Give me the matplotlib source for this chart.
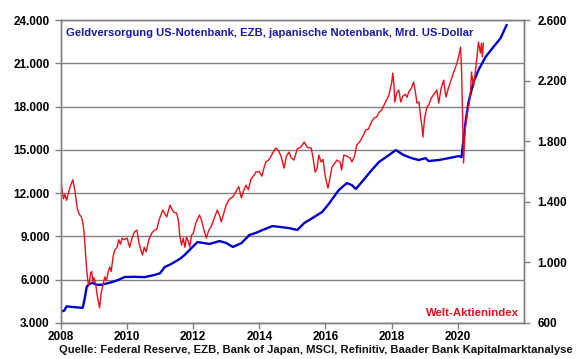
import matplotlib.pyplot as plt
from matplotlib.ticker import FuncFormatter

plt.rcParams['font.family'] = ['Liberation Sans', 'DejaVu Sans']

# Geldversorgung (Mrd. US-Dollar), linke Achse
blue_t = [2008.0, 2008.1, 2008.17, 2008.4, 2008.66, 2008.72, 2008.78, 2008.85, 2008.96,
          2009.08, 2009.23, 2009.4, 2009.57, 2009.75, 2009.93, 2010.23, 2010.53, 2010.83,
          2011.0, 2011.14, 2011.3, 2011.44, 2011.6, 2011.74, 2011.95, 2012.13, 2012.3,
          2012.49, 2012.8, 2013.0, 2013.2, 2013.46, 2013.7, 2013.9, 2014.1, 2014.4,
          2014.66, 2014.9, 2015.15, 2015.36, 2015.66, 2015.9, 2016.1, 2016.4, 2016.65,
          2016.8, 2016.92, 2017.1, 2017.4, 2017.62, 2017.92, 2018.13, 2018.37, 2018.61,
          2018.82, 2019.03, 2019.12, 2019.43, 2019.73, 2020.03, 2020.12, 2020.15, 2020.24,
          2020.33, 2020.48, 2020.63, 2020.84, 2021.08, 2021.3, 2021.48]
blue_v = [3800, 3850, 4150, 4100, 4050, 4700, 5500, 5700, 5780,
          5650, 5650, 5750, 5850, 6000, 6190, 6200, 6180, 6330,
          6450, 6880, 7050, 7230, 7450, 7710, 8200, 8610, 8550,
          8480, 8680, 8550, 8270, 8540, 9100, 9250, 9450, 9720,
          9650, 9580, 9450, 9930, 10350, 10690, 11250, 12200, 12700,
          12560, 12290, 12770, 13600, 14160, 14640, 14990, 14640, 14430,
          14300, 14430, 14230, 14300, 14430, 14570, 14500, 15200, 16930,
          18300, 19700, 20530, 21430, 22130, 22750, 23650]

# Welt-Aktienindex, rechte Achse
red_t = [2008.0, 2008.04, 2008.08, 2008.12, 2008.17, 2008.22, 2008.28, 2008.36, 2008.42,
         2008.5, 2008.55, 2008.62, 2008.66, 2008.7, 2008.75, 2008.78, 2008.82, 2008.85,
         2008.9, 2008.93, 2008.97, 2009.0, 2009.05, 2009.1, 2009.17, 2009.22, 2009.28,
         2009.33, 2009.38, 2009.43, 2009.48, 2009.52, 2009.58, 2009.63, 2009.7, 2009.75,
         2009.8, 2009.85, 2009.92, 2010.0, 2010.08, 2010.15, 2010.22, 2010.3, 2010.36,
         2010.42, 2010.47, 2010.52, 2010.58, 2010.66, 2010.75, 2010.82, 2010.9, 2010.97,
         2011.08, 2011.15, 2011.2, 2011.3, 2011.36, 2011.42, 2011.5, 2011.55, 2011.6,
         2011.65, 2011.7, 2011.75, 2011.8, 2011.85, 2011.9, 2011.95, 2012.0, 2012.08,
         2012.19, 2012.25, 2012.32, 2012.4, 2012.47, 2012.55, 2012.65, 2012.73, 2012.8,
         2012.85, 2012.92, 2013.0, 2013.1, 2013.2, 2013.3, 2013.38, 2013.46, 2013.52,
         2013.6, 2013.67, 2013.75, 2013.85, 2013.9, 2014.0, 2014.08, 2014.15, 2014.2,
         2014.3, 2014.4, 2014.5, 2014.58, 2014.66, 2014.75, 2014.82, 2014.9, 2014.97,
         2015.05, 2015.15, 2015.25, 2015.36, 2015.45, 2015.57, 2015.62, 2015.69, 2015.75,
         2015.8, 2015.87, 2015.93, 2016.0, 2016.08, 2016.15, 2016.2, 2016.3, 2016.35,
         2016.45, 2016.49, 2016.56, 2016.66, 2016.75, 2016.8, 2016.88, 2016.95, 2017.05,
         2017.15, 2017.22, 2017.3, 2017.4, 2017.47, 2017.55, 2017.62, 2017.7, 2017.8,
         2017.92, 2018.0, 2018.04, 2018.08, 2018.1, 2018.16, 2018.22, 2018.28, 2018.35,
         2018.42, 2018.47, 2018.52, 2018.6, 2018.67, 2018.72, 2018.77, 2018.83, 2018.88,
         2018.92, 2018.95, 2019.0, 2019.07, 2019.13, 2019.2, 2019.28, 2019.37, 2019.43,
         2019.5, 2019.58, 2019.62, 2019.65, 2019.72, 2019.8, 2019.87, 2019.94, 2020.0,
         2020.05, 2020.09, 2020.12, 2020.15, 2020.18, 2020.21, 2020.24, 2020.3, 2020.35,
         2020.39, 2020.42, 2020.48, 2020.53, 2020.57, 2020.63, 2020.69, 2020.72, 2020.75,
         2020.78]
red_v = [1540, 1470, 1420, 1450, 1410, 1450, 1500, 1545, 1480,
         1350, 1320, 1300, 1267, 1200, 1050, 950, 870, 850,
         930, 940, 870, 900, 860, 780, 700, 800, 860,
         904, 880, 940, 970, 940, 1040, 1082, 1100, 1150,
         1120, 1160, 1150, 1161, 1100, 1160, 1200, 1214, 1130,
         1080, 1049, 1100, 1070, 1150, 1194, 1210, 1220, 1280,
         1346, 1320, 1300, 1379, 1350, 1330, 1326, 1280, 1170,
         1115, 1160, 1100, 1168, 1140, 1102, 1180, 1190, 1260,
         1313, 1280, 1220, 1161, 1210, 1240, 1300, 1346, 1310,
         1267, 1320, 1380, 1420, 1432, 1470, 1500, 1425, 1470,
         1510, 1480, 1550, 1580, 1597, 1600, 1570, 1630, 1663,
         1680, 1720, 1755, 1740, 1700, 1623, 1700, 1729, 1690,
         1676, 1750, 1760, 1795, 1760, 1755, 1700, 1597, 1620,
         1709, 1663, 1680, 1564, 1491, 1570, 1630, 1660, 1676,
         1660, 1610, 1709, 1700, 1690, 1663, 1700, 1775, 1800,
         1840, 1874, 1880, 1930, 1953, 1960, 1990, 2006, 2050,
         2105, 2180, 2250, 2150, 2059, 2120, 2138, 2059, 2100,
         2110, 2090, 2125, 2150, 2191, 2130, 2052, 2060, 1960,
         1900, 1828, 1950, 2026, 2040, 2085, 2110, 2138, 2052,
         2150, 2204, 2130, 2092, 2150, 2204, 2250, 2290, 2330,
         2380, 2422, 2257, 1973, 1656, 1800, 1907, 1993, 2050,
         2125, 2257, 2158, 2250, 2323, 2455, 2382, 2448, 2356,
         2448]

left_ticks = [3000, 6000, 9000, 12000, 15000, 18000, 21000, 24000]
right_ticks = [600, 1000, 1400, 1800, 2200, 2600]
year_ticks = [2008, 2010, 2012, 2014, 2016, 2018, 2020]

dot_fmt = FuncFormatter(lambda v, p: f"{int(v):,}".replace(",", "."))

fig = plt.figure(figsize=(5.8, 3.59), dpi=100)
ax = fig.add_axes([0.105, 0.1003, 0.798, 0.8437])
ax2 = ax.twinx()

ax.plot(blue_t, blue_v, color='#0000cc', lw=1.7)
ax2.plot(red_t, red_v, color='#e8101a', lw=1.0)

ax.set_xlim(2008, 2022)
ax.set_ylim(3000, 24000)
ax2.set_ylim(600, 2600)
ax.set_xticks(year_ticks)
ax.set_yticks(left_ticks)
ax2.set_yticks(right_ticks)
ax.yaxis.set_major_formatter(dot_fmt)
ax2.yaxis.set_major_formatter(dot_fmt)

ax.grid(axis='y', color='#808080', lw=1.0)
ax.set_axisbelow(True)

for a in (ax, ax2):
    for s in a.spines.values():
        s.set_color('#808080')
        s.set_linewidth(1.0)
    a.tick_params(labelsize=8.5, colors='#808080', labelcolor='black', width=1.0, length=4)
    for lab in a.get_xticklabels() + a.get_yticklabels():
        lab.set_fontweight('bold')
ax.tick_params(axis='y', pad=4)
ax2.tick_params(axis='y', pad=6)
ax.tick_params(axis='x', pad=2)

ax.text(0.012, 0.975, "Geldversorgung US-Notenbank, EZB, japanische Notenbank, Mrd. US-Dollar",
        transform=ax.transAxes, ha='left', va='top', fontsize=8.1, fontweight='bold',
        color='#1a1aaa')
ax.text(0.99, 0.015, "Welt-Aktienindex", transform=ax.transAxes, ha='right', va='bottom',
        fontsize=8.2, fontweight='bold', color='#e01020')
fig.text(0.102, 0.024, "Quelle: Federal Reserve, EZB, Bank of Japan, MSCI, Refinitiv, Baader Bank Kapitalmarktanalyse",
         ha='left', va='center', fontsize=8.1, fontweight='bold', color='#111111')

fig.savefig('out.png', dpi=100)
